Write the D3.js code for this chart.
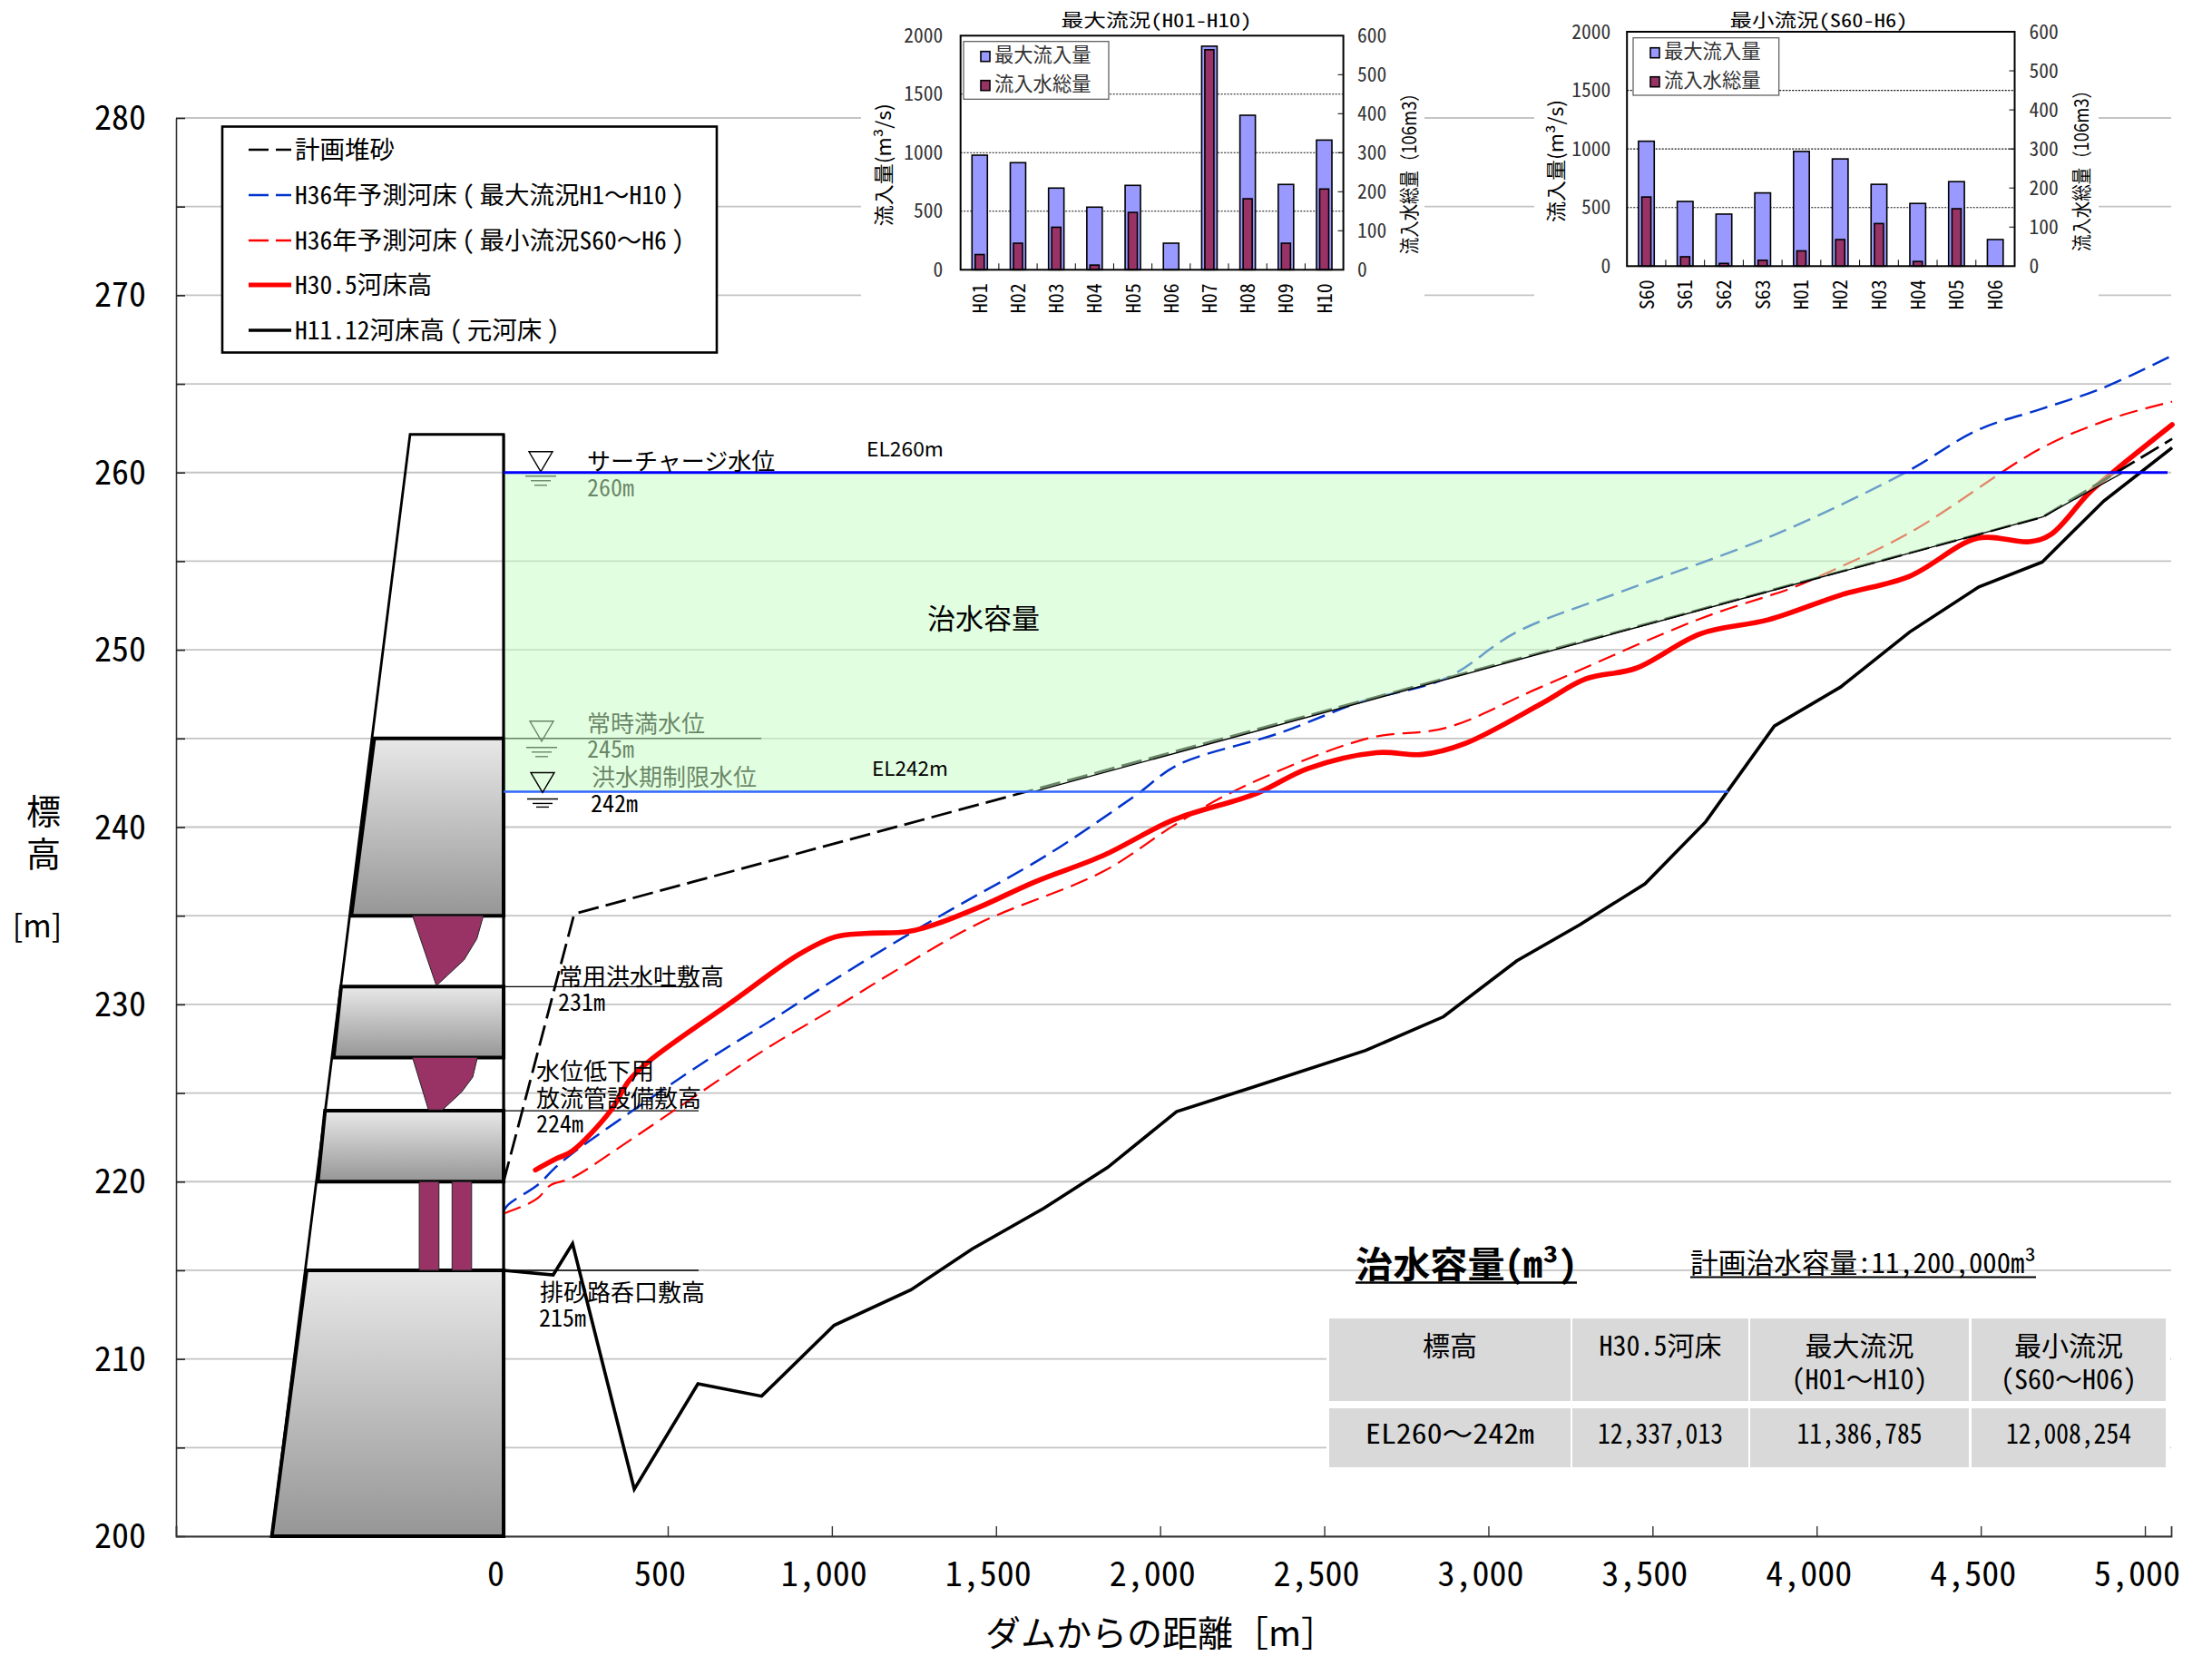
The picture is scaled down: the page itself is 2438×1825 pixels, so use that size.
<!DOCTYPE html>
<html><head><meta charset="utf-8">
<script src="https://cdnjs.cloudflare.com/ajax/libs/d3/7.8.5/d3.min.js"></script>
<style>
html,body{margin:0;padding:0;background:#fff}
svg{display:block}
text{font-family:"Noto Sans CJK JP","Noto Sans",sans-serif;font-feature-settings:"hwid";fill:#000}
</style></head><body>
<div id="c"></div>
<script>
// ---------- main chart data [distance m, elevation m] ----------
const originalBed=[[0,215],[151,214.74],[210,216.5],[398,202.65],[592,208.6],[786,207.9],[1007,211.9],[1241,213.9],[1427,216.2],[1646,218.5],[1840,220.8],[2050,223.95],[2277,225.3],[2626,227.4],[2863,229.3],[3086,232.45],[3279,234.5],[3477,236.8],[3662,240.3],[3871,245.7],[4073,247.9],[4283,251],[4494,253.55],[4687,254.95],[4875,258.4],[5083,261.4]];
const bedH30=[[97,220.66],[161,221.3],[207,221.7],[326,224],[382,225.7],[447,226.85],[705,230.26],[898,232.8],[1009,233.8],[1100,234],[1230,234.1],[1313,234.5],[1451,235.5],[1617,236.9],[1827,238.4],[2040,240.4],[2294,241.9],[2449,243.3],[2659,244.2],[2800,244.1],[2927,244.7],[3165,247],[3295,248.35],[3451,248.97],[3645,250.9],[3854,251.7],[4075,253.1],[4283,254.15],[4491,256.3],[4647,256.1],[4713,256.5],[4830,258.85],[4908,260.1],[5083,262.7]];
const predictMax=[[0,218.35],[14,218.7],[106,219.85],[152,220.7],[207,221.56],[382,223.86],[613,226.77],[815,229.1],[1017,231.5],[1220,233.8],[1359,235.3],[1658,238.45],[1926,241.8],[2053,243.5],[2363,245.3],[2617,247.1],[2871,248.4],[3086,251],[3408,253.3],[3867,256.45],[4270,260],[4491,262.4],[4687,263.6],[4869,264.75],[5083,266.6]];
const predictMin=[[0,218.2],[14,218.3],[69,218.7],[106,219.1],[143,219.8],[207,220.2],[382,222.3],[603,225.07],[796,227.45],[1009,229.8],[1212,232.1],[1451,234.6],[1827,237.5],[2040,240.07],[2222,242],[2631,245],[2871,245.6],[3154,247.85],[3645,251.75],[3919,253.45],[3997,254.05],[4283,256.6],[4687,261.4],[4908,263.1],[5083,264]];
const planSediment=[[0,220],[215,235.1],[4689,257.5],[5083,261.9]];
const floodArea=[[0,260],[4934,260],[4689,257.5],[1616,242],[0,242]];
const floodEdge=[[1616,242],[4689,257.5],[4934,260]];
const damOutline=[[-706,200],[-285,262.15],[0,262.15],[0,200]];
const damBlocks=[
 [[-394,245],[0,245],[0,235],[-464,235]],
 [[-495,231],[0,231],[0,227],[-518,227]],
 [[-544,224],[0,224],[0,220],[-566,220]],
 [[-600,215],[0,215],[0,200],[-706,200]]];
const gates=[
 [[-277.5,235],[-61.6,235],[-81.5,233.7],[-120.8,232.5],[-204.8,231.05]],
 [[-277.5,227],[-80,227],[-94,225.9],[-128,225.05],[-186,224.05],[-229,224.05]]];
const pipes=[[[-257,220],[-197,220],[-197,215],[-257,215]],[[-157,220],[-97.5,220],[-97.5,215],[-157,215]]];
const xTicks=[0,500,1000,1500,2000,2500,3000,3500,4000,4500,5000];
const yMajor=[200,210,220,230,240,250,260,270,280];
const yMinor=[205,215,225,235,245,255,265,275];
const legendRows=["計画堆砂","H36年予測河床（最大流況H1～H10）","H36年予測河床（最小流況S60～H6）","H30.5河床高","H11.12河床高（元河床）"];
// ---------- small chart data ----------
const catsA=["H01","H02","H03","H04","H05","H06","H07","H08","H09","H10"];
const peakA=[979,915,698,535,721,227,1910,1320,729,1108];
const totalA=[39,68,109,12,147,0,564,182,68,207];
const catsB=["S60","S61","S62","S63","H01","H02","H03","H04","H05","H06"];
const peakB=[1066,552,444,625,979,915,698,535,721,227];
const totalB=[177,24,7,15,39,68,109,12,147,0];
// ---------- table ----------
const tableHead=[["標高"],["H30.5河床"],["最大流況","(H01～H10)"],["最小流況","(S60～H06)"]];
const tableRow=["EL260～242m","12,337,013","11,386,785","12,008,254"];
const tableRowLen=[186,138,138,138];

const W=2438,H=1825;
const svg=d3.select("#c").append("svg").attr("width",W).attr("height",H).attr("viewBox",`0 0 ${W} ${H}`);
const defs=svg.append("defs");
const grad=defs.append("linearGradient").attr("id","g").attr("x1",0).attr("y1",0).attr("x2",0).attr("y2",1);
grad.append("stop").attr("offset",0).attr("stop-color","#e8e8e8");
grad.append("stop").attr("offset",1).attr("stop-color","#969696");

const x=d3.scaleLinear().domain([-998,5080]).range([194,2393]);
const y=d3.scaleLinear().domain([200,280]).range([1693,130]);
const line=d3.line().x(d=>x(d[0])).y(d=>y(d[1]));
const smooth=d3.line().x(d=>x(d[0])).y(d=>y(d[1])).curve(d3.curveCatmullRom.alpha(0.5));

function txt(g,px,py,s,o={}){
  const t=g.append("text").attr("x",px).attr("y",py)
    .attr("font-size",o.size||26).attr("text-anchor",o.anchor||"start");
  if(o.plain){ t.text(s).style("font-feature-settings","normal"); }
  else {
    // full-width punctuation: wave dash stays full width; parens sit centred in a full cell
    let pad=false;
    s.split(/([（）～])/).filter(p=>p.length).forEach(p=>{
      const isParen=p==="（"||p==="）", isWave=p==="～";
      const sp=t.append("tspan").text(p==="（"?"(":p==="）"?")":p);
      if(isWave) sp.style("font-feature-settings","normal");
      if(isParen||pad) sp.attr("dx","0.2em");
      pad=isParen;
    });
  }
  if(o.fill) t.style("fill",o.fill);
  if(o.weight) t.attr("font-weight",o.weight);
  if(o.len) t.attr("textLength",o.len).attr("lengthAdjust","spacingAndGlyphs");
  if(o.rot) t.attr("transform",`rotate(-90 ${px} ${py})`);
  return t;
}

// grid
const grid=svg.append("g");
grid.selectAll("line").data(yMajor.concat(yMinor)).join("line")
 .attr("x1",x.range()[0]).attr("x2",x.range()[1]).attr("y1",d=>y(d)).attr("y2",d=>y(d))
 .attr("stroke","#c4c4c4").attr("stroke-width",1.8);
// blank areas behind insets and table
const blanks=[[949,100,621,240],[1691,100,622,240],[1462,1450,930,170]];
svg.append("g").selectAll("rect").data(blanks).join("rect")
 .attr("x",d=>d[0]).attr("y",d=>d[1]).attr("width",d=>d[2]).attr("height",d=>d[3]).attr("fill","#fff");

// axes
const yAxis=d3.axisLeft(y).tickValues(yMajor.concat(yMinor)).tickSize(0).tickFormat("");
const gy=svg.append("g").attr("transform",`translate(${x.range()[0]},0)`).call(yAxis);
gy.select(".domain").attr("stroke","#333").attr("stroke-width",1.6);
gy.selectAll(".tick line").attr("x2",10).attr("stroke","#222").attr("stroke-width",1.6);
const yl=svg.append("g");
yMajor.forEach(v=>txt(yl,161,y(v)+13,String(v),{size:38,anchor:"end"}));

const xAxis=d3.axisBottom(x).tickValues(xTicks).tickSize(-11).tickFormat(d3.format(","));
const gx=svg.append("g").attr("transform",`translate(0,${y(200)})`).call(xAxis);
gx.select(".domain").attr("stroke","#333").attr("stroke-width",1.8);
gx.selectAll(".tick line").attr("stroke","#333").attr("stroke-width",1.4);
gx.selectAll(".tick text").attr("font-size",38).attr("y",55).attr("dy",0).attr("dx",-9)
  .style("font-family",'"Noto Sans CJK JP"');

// dam
const dam=svg.append("g");
dam.append("path").attr("d",line(damOutline)).attr("fill","none").attr("stroke","#000").attr("stroke-width",2.8);
dam.selectAll(".b").data(damBlocks).join("path").attr("class","b")
 .attr("d",d=>line(d)+"Z").attr("fill","url(#g)").attr("stroke","#000").attr("stroke-width",4);
dam.selectAll(".p").data(gates).join("path").attr("class","p")
 .attr("d",d=>line(d)+"Z").attr("fill","#993366").attr("stroke","#222").attr("stroke-width",1);
dam.selectAll(".q").data(pipes).join("path").attr("class","q")
 .attr("d",d=>line(d)+"Z").attr("fill","#993366").attr("stroke","#222").attr("stroke-width",1);

// leader lines
const leaders=[[245,785,"#000",1.6],[231,594,"#000",1.4],[224,594,"#000",1.4],[215,594,"#000",1.4]];
svg.append("g").selectAll("line").data(leaders).join("line")
 .attr("x1",x(0)).attr("x2",d=>x(d[1])).attr("y1",d=>y(d[0])).attr("y2",d=>y(d[0]))
 .attr("stroke",d=>d[2]).attr("stroke-width",d=>d[3]);

// series lines (under the translucent flood area)
const lines=svg.append("g").attr("fill","none");
lines.append("path").attr("d",line(originalBed)).attr("stroke","#000").attr("stroke-width",3.6).attr("stroke-linejoin","miter");
lines.append("path").attr("d",smooth(predictMin)).attr("stroke","#ff0000").attr("stroke-width",2.2).attr("stroke-dasharray","20 9");
lines.append("path").attr("d",smooth(predictMax)).attr("stroke","#0033cc").attr("stroke-width",2.5).attr("stroke-dasharray","20 9");
lines.append("path").attr("d",smooth(bedH30)).attr("stroke","#ff0000").attr("stroke-width",5.6).attr("stroke-linecap","round");
lines.append("path").attr("d",line(planSediment)).attr("stroke","#000").attr("stroke-width",2.8).attr("stroke-dasharray","23 8");

// water marks and labels beneath the flood area
function waterMark(g,cx,tip,rows){
  const hw=13,h=22;
  g.append("path").attr("d",`M${cx-hw},${tip-h}L${cx+hw},${tip-h}L${cx},${tip}Z`).attr("fill","none").attr("stroke","#000").attr("stroke-width",1.4);
  rows.forEach((r,i)=>g.append("line").attr("x1",cx-[17,11,7][i]).attr("x2",cx+[17,11,7][i]).attr("y1",tip+r).attr("y2",tip+r).attr("stroke","#000").attr("stroke-width",1.4));
}
const under=svg.append("g");
txt(under,647,547,"260m");
txt(under,647,807,"常時満水位");
txt(under,647,835,"245m");
txt(under,652,866,"洪水期制限水位");
waterMark(under,596,y(260)-1,[5,10,15]);
waterMark(under,597,y(245)+3,[7,12,17]);

// flood capacity area
svg.append("path").attr("d",line(floodArea)+"Z").attr("fill","rgb(200,253,196)").attr("fill-opacity",0.53);
svg.append("path").attr("d",line(floodEdge)).attr("fill","none").attr("stroke","#000").attr("stroke-width",1.4);
svg.append("line").attr("x1",x(0)).attr("x2",x(0)).attr("y1",y(262.15)).attr("y2",y(200)).attr("stroke","#000").attr("stroke-width",2.8);
const levels=[[260,5069,"#0000ff",3],[242,3731,"#3366ff",2.4]];
svg.append("g").selectAll("line").data(levels).join("line")
 .attr("x1",x(0)).attr("x2",d=>x(d[1])).attr("y1",d=>y(d[0])).attr("y2",d=>y(d[0]))
 .attr("stroke",d=>d[2]).attr("stroke-width",d=>d[3]);

// labels above
const lab=svg.append("g");
waterMark(lab,598,y(242)+1,[7,12,16]);
txt(lab,647,518,"サーチャージ水位");
txt(lab,651,895,"242m");
txt(lab,955,503,"EL260m",{size:22,len:85,plain:true});
txt(lab,961,855,"EL242m",{size:22,len:84,plain:true});
txt(lab,1022,693,"治水容量",{size:31,len:124});
txt(lab,616,1086,"常用洪水吐敷高");
txt(lab,615,1114,"231m");
txt(lab,591,1190,"水位低下用");
txt(lab,591,1220,"放流管設備敷高");
txt(lab,591,1248,"224m");
txt(lab,595,1434,"排砂路呑口敷高");
txt(lab,594,1462,"215m");

// titles
txt(lab,48,908,"標",{size:38,anchor:"middle"});
txt(lab,48,955,"高",{size:38,anchor:"middle"});
txt(lab,41,1033,"[m]",{size:34,anchor:"middle",plain:true});
txt(lab,1086,1813.5,"ダムからの距離［m］",{size:39,plain:true});

// legend
const leg=svg.append("g");
leg.append("rect").attr("x",245).attr("y",139.5).attr("width",545).attr("height",249).attr("fill","#fff").attr("stroke","#000").attr("stroke-width",2.6);
const legStyles=[["#000",2.6,"22 8"],["#0033cc",2.6,"22 8"],["#ff0000",2.6,"22 8"],["#ff0000",5,null],["#000",3.6,null]];
const legY=[165,215,265,314,364];
legendRows.forEach((s,i)=>{
  const l=leg.append("line").attr("x1",274).attr("x2",321).attr("y1",legY[i]).attr("y2",legY[i])
    .attr("stroke",legStyles[i][0]).attr("stroke-width",legStyles[i][1]);
  if(legStyles[i][2]) l.attr("stroke-dasharray",legStyles[i][2]);
  txt(leg,325,legY[i]+10,s,{size:27.5});
});

// inset charts
function inset(o){
  const g=svg.append("g");
  const bx=d3.scaleBand().domain(o.cats).range([o.l,o.r]);
  const ly=d3.scaleLinear().domain([0,2000]).range([o.b,o.t]);
  const ry=d3.scaleLinear().domain([0,600]).range([o.b,o.t]);
  g.append("rect").attr("x",o.l).attr("y",o.t).attr("width",o.r-o.l).attr("height",o.b-o.t).attr("fill","#fff");
  g.selectAll(".g").data([500,1000,1500]).join("line").attr("class","g")
   .attr("x1",o.l).attr("x2",o.r).attr("y1",d=>ly(d)).attr("y2",d=>ly(d)).attr("stroke","#111").attr("stroke-width",1.1).attr("stroke-dasharray","2 1.5");
  g.selectAll(".pk").data(o.peak).join("rect").attr("class","pk")
   .attr("x",(d,i)=>bx(o.cats[i])+bx.bandwidth()/2-o.bw/2).attr("width",o.bw)
   .attr("y",d=>ly(d)).attr("height",d=>o.b-ly(d)).attr("fill","#9999ff").attr("stroke","#000").attr("stroke-width",1.6);
  g.selectAll(".tt").data(o.total).join("rect").attr("class","tt")
   .attr("x",(d,i)=>bx(o.cats[i])+bx.bandwidth()/2-5).attr("width",10)
   .attr("y",d=>ry(d)).attr("height",d=>o.b-ry(d)).attr("fill","#993366").attr("stroke","#000").attr("stroke-width",d=>d>0?1.6:0);
  o.cats.forEach((c,i)=>{ if(i>0) g.append("line").attr("x1",bx(c)).attr("x2",bx(c)).attr("y1",o.b).attr("y2",o.b-7).attr("stroke","#000").attr("stroke-width",1); });
  g.append("rect").attr("x",o.l).attr("y",o.t).attr("width",o.r-o.l).attr("height",o.b-o.t).attr("fill","none").attr("stroke","#000").attr("stroke-width",2);
  d3.range(100,600,100).forEach(v=>g.append("line").attr("x1",o.r).attr("x2",o.r-6).attr("y1",ry(v)).attr("y2",ry(v)).attr("stroke","#000").attr("stroke-width",1));
  [0,500,1000,1500,2000].forEach(v=>txt(g,o.ll,ly(v)+7.5,String(v),{size:21.5,anchor:"end",fill:"#333"}));
  d3.range(0,700,100).forEach(v=>txt(g,o.rl,ry(v)+7.5,String(v),{size:21.5,fill:"#333"}));
  o.cats.forEach(c=>{ txt(g,bx(c)+bx.bandwidth()/2+8,o.b+48,c,{size:22,rot:true,len:33}); });
  txt(g,o.tx,29.5,o.title,{size:20,anchor:"middle",len:o.tlen});
  txt(g,o.axl,o.ayl,"流入量(m³/s)",{size:22,anchor:"middle",rot:true,len:135,plain:true});
  txt(g,o.axr,o.ayr,"流入水総量（106m3）",{size:22,anchor:"middle",rot:true,len:187,plain:true});
  g.append("rect").attr("x",o.lb[0]).attr("y",o.lb[1]).attr("width",o.lb[2]).attr("height",o.lb[3]).attr("fill","#fff").attr("stroke","#555").attr("stroke-width",1.2);
  [["最大流入量","#9999ff",0],["流入水総量","#993366",1]].forEach(r=>{
    const yy=o.lb[1]+16+r[2]*32;
    g.append("rect").attr("x",o.lb[0]+19).attr("y",yy-5).attr("width",10).attr("height",11).attr("fill",r[1]).attr("stroke","#000").attr("stroke-width",1.6);
    txt(g,o.lb[0]+34,yy+6.5,r[0],{size:21.3,fill:"#333"});
  });
}
inset({cats:catsA,peak:peakA,total:totalA,l:1058.7,r:1480.6,t:39.3,b:297.3,bw:17,ll:1039.3,rl:1496,tx:1274.5,tlen:210,title:"最大流況(H01-H10)",axl:982,ayl:181.7,axr:1561,ayr:186.7,lb:[1062,45.7,160,63.6]});
inset({cats:catsB,peak:peakB,total:totalB,l:1793.2,r:2220.5,t:35,b:293.3,bw:17.4,ll:1775.3,rl:2236.5,tx:2004.5,tlen:196,title:"最小流況(S60-H6)",axl:1723,ayl:177.5,axr:2302,ayr:183.5,lb:[1800,41.7,160.7,63.3]});

// table
const tb=svg.append("g");
const colX=[[1465,1731],[1733,1927],[1929,2170],[2173,2387]];
const rowY=[[1453,1544],[1552,1617]];
colX.forEach((c,i)=>{
  rowY.forEach(r=>tb.append("rect").attr("x",c[0]).attr("y",r[0]).attr("width",c[1]-c[0]).attr("height",r[1]-r[0]).attr("fill","#d9d9d9"));
  tableHead[i].forEach((s,j)=>txt(tb,(c[0]+c[1])/2,1494+j*37,s,{size:30,anchor:"middle"}));
  txt(tb,(c[0]+c[1])/2,1591,tableRow[i],{size:30,anchor:"middle",len:tableRowLen[i]});
});
txt(tb,1494,1408,"治水容量(m³)",{size:40,weight:700,len:244});
tb.append("line").attr("x1",1494).attr("x2",1738).attr("y1",1413.5).attr("y2",1413.5).attr("stroke","#000").attr("stroke-width",2.6);
txt(tb,1863,1403,"計画治水容量:11,200,000m³",{size:31,len:381});
tb.append("line").attr("x1",1863).attr("x2",2244).attr("y1",1407.5).attr("y2",1407.5).attr("stroke","#000").attr("stroke-width",1.8);
</script>
</body></html>
